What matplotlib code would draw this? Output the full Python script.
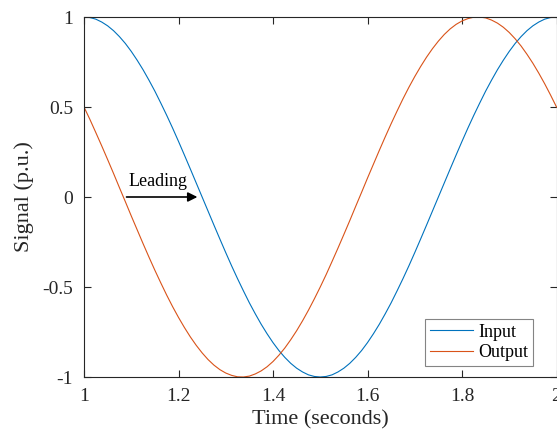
import matplotlib
matplotlib.use("Agg")
import matplotlib.pyplot as plt

# samples, every 0.0125 s
time_s = [1 + 0.0125 * k for k in range(81)]
input_signal = [
    1.000, 0.997, 0.988, 0.972, 0.951, 0.924, 0.891, 0.853, 0.809, 0.760,
    0.707, 0.649, 0.588, 0.522, 0.454, 0.383, 0.309, 0.233, 0.156, 0.078,
    0.000, -0.078, -0.156, -0.233, -0.309, -0.383, -0.454, -0.522, -0.588, -0.649,
    -0.707, -0.760, -0.809, -0.853, -0.891, -0.924, -0.951, -0.972, -0.988, -0.997,
    -1.000, -0.997, -0.988, -0.972, -0.951, -0.924, -0.891, -0.853, -0.809, -0.760,
    -0.707, -0.649, -0.588, -0.522, -0.454, -0.383, -0.309, -0.233, -0.156, -0.078,
    0.000, 0.078, 0.156, 0.233, 0.309, 0.383, 0.454, 0.522, 0.588, 0.649,
    0.707, 0.760, 0.809, 0.853, 0.891, 0.924, 0.951, 0.972, 0.988, 0.997,
    1.000,
]
output_signal = [
    0.500, 0.431, 0.358, 0.284, 0.208, 0.131, 0.052, -0.026, -0.105, -0.182,
    -0.259, -0.334, -0.407, -0.477, -0.545, -0.609, -0.669, -0.725, -0.777, -0.824,
    -0.866, -0.903, -0.934, -0.959, -0.978, -0.991, -0.999, -1.000, -0.995, -0.983,
    -0.966, -0.943, -0.914, -0.879, -0.839, -0.793, -0.743, -0.688, -0.629, -0.566,
    -0.500, -0.431, -0.358, -0.284, -0.208, -0.131, -0.052, 0.026, 0.105, 0.182,
    0.259, 0.334, 0.407, 0.477, 0.545, 0.609, 0.669, 0.725, 0.777, 0.824,
    0.866, 0.903, 0.934, 0.959, 0.978, 0.991, 0.999, 1.000, 0.995, 0.983,
    0.966, 0.943, 0.914, 0.879, 0.839, 0.793, 0.743, 0.688, 0.629, 0.566,
    0.500,
]
series_names = ["Input", "Output"]
x_ticks = [1, 1.2, 1.4, 1.6, 1.8, 2]
x_tick_labels = ["1", "1.2", "1.4", "1.6", "1.8", "2"]
y_ticks = [-1, -0.5, 0, 0.5, 1]
y_tick_labels = ["-1", "-0.5", "0", "0.5", "1"]

plt.rcParams["font.family"] = ["Liberation Serif", "DejaVu Serif"]

fig = plt.figure(figsize=(5.57, 4.38), dpi=100)
ax = fig.add_axes([84 / 557, 61 / 438, 472.5 / 557, 360 / 438])

ax.plot(time_s, input_signal, color="#0072BD", lw=0.8, label=series_names[0])
ax.plot(time_s, output_signal, color="#D95319", lw=0.8, label=series_names[1])

ax.set_xlim(1, 2)
ax.set_ylim(-1, 1)
ax.set_xticks(x_ticks)
ax.set_xticklabels(x_tick_labels)
ax.set_yticks(y_ticks)
ax.set_yticklabels(y_tick_labels)
ax.tick_params(direction="in", length=5, width=0.8, labelsize=14,
               top=True, right=True, colors="#262626", pad=8)
for s in ax.spines.values():
    s.set_color("#262626")
    s.set_linewidth(0.8)

ax.set_xlabel("Time (seconds)", fontsize=16, color="#262626", labelpad=4)
ax.set_ylabel("Signal (p.u.)", fontsize=16, color="#262626", labelpad=6)

ax.annotate("", xy=(1.24, 0.0), xytext=(1.09, 0.0),
            arrowprops=dict(arrowstyle="-|>", color="black", lw=1.2,
                            mutation_scale=14, shrinkA=0, shrinkB=0))
ax.text(1.095, 0.04, "Leading", fontsize=13, ha="left", va="bottom")

leg = ax.legend(loc="lower right", fontsize=13, handlelength=2.4,
                frameon=True, fancybox=False, borderpad=0.25,
                labelspacing=0.2, handletextpad=0.3, borderaxespad=0,
                bbox_to_anchor=(0.950, 0.031))
leg.get_frame().set_edgecolor("#666666")
leg.get_frame().set_linewidth(0.8)

fig.savefig("out.png", dpi=100)
